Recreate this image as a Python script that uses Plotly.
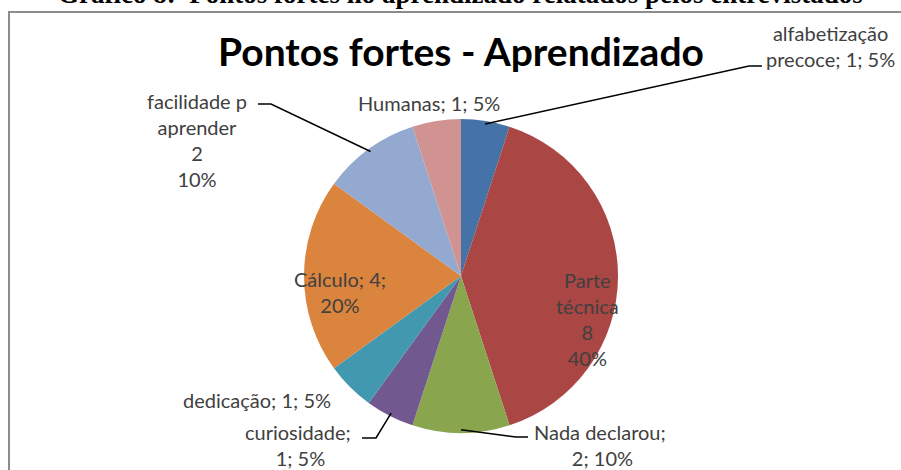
import math
import plotly.graph_objects as go

# ---------------- data ----------------
categories = ["alfabetização precoce", "Parte técnica", "Nada declarou", "curiosidade",
              "dedicação", "Cálculo", "facilidade p aprender", "Humanas"]
values = [1, 8, 2, 1, 1, 4, 2, 1]
colors = ["#4572A7", "#AA4643", "#89A54E", "#71588F", "#4198AF", "#DB843D", "#93A9CF", "#D19392"]
chart_title = "Pontos fortes - Aprendizado"
caption = "Gráfico 8:  Pontos fortes no aprendizado relatados pelos entrevistados"

# ---------------- layout constants (pixels) ----------------
W, H = 901, 470
CX, CY, R = 461, 276, 157
FONT = "Lato"
LABEL_COLOR = "#404040"
LABEL_SIZE = 20

def px(x):
    return x / W

def py(y):
    return 1 - y / H

total = sum(values)
pcts = [round(v * 100 / total) for v in values]

# label templates (line breaks as in the reference)
templates = [
    "{c0}<br>{c1}; {v}; {p}%",
    "{c0}<br>{c1}<br>{v}<br>{p}%",
    "{c}; <br>{v}; {p}%",
    "{c}; <br>{v}; {p}%",
    "{c}; {v}; {p}%",
    "{c}; {v};<br>{p}%",
    "{c0}<br>{c1}<br>{v}<br>{p}%",
    "{c}; {v}; {p}%",
]
label_pos = [(830, 46), (587, 319), (602, 445), (300, 445),
             (257, 400), (340, 292), (197, 140), (429, 103)]
# leader lines: index -> (label end point, stub end point)
leaders = {
    0: ((762, 66), (749, 66)),
    6: ((258, 104), (271, 104)),
    3: ((362, 438), (376, 438)),
    2: ((528, 437), (516, 437)),
}

fig = go.Figure()
fig.add_trace(go.Pie(
    labels=categories, values=values, sort=False, direction="clockwise", rotation=0,
    marker=dict(colors=colors, line=dict(width=0)),
    textinfo="none", hoverinfo="label+value+percent", showlegend=False,
    domain=dict(x=[px(CX - R), px(CX + R)], y=[py(CY + R), py(CY - R)]),
))

annotations = []
for i, (c, v, p) in enumerate(zip(categories, values, pcts)):
    parts = c.rsplit(" ", 1)
    c0, c1 = (parts + [""])[:2]
    text = templates[i].format(c=c, c0=c0, c1=c1, v=v, p=p)
    x, y = label_pos[i]
    annotations.append(dict(
        text=text, x=px(x), y=py(y), xref="paper", yref="paper",
        xanchor="center", yanchor="middle", align="center", showarrow=False,
        font=dict(family=FONT, size=LABEL_SIZE, color=LABEL_COLOR),
    ))

annotations.append(dict(
    text="<b>" + chart_title + "</b>", x=px(CX), y=py(51), xref="paper", yref="paper",
    xanchor="center", yanchor="middle", showarrow=False,
    font=dict(family=FONT, size=39, color="#000000"),
))
annotations.append(dict(
    text="<b>" + caption.replace("  ", "&nbsp; ") + "</b>", x=px(460), y=py(-6), xref="paper", yref="paper",
    xanchor="center", yanchor="middle", showarrow=False,
    font=dict(family="Liberation Serif", size=27, color="#000000"),
))

shapes = [dict(type="rect", xref="paper", yref="paper",
               x0=px(9), x1=px(W + 20), y0=py(12), y1=py(H + 20),
               line=dict(color="#8C8C8C", width=2), fillcolor="rgba(0,0,0,0)")]

# leader lines, pie end computed from the slice mid-angle
cum = 0
for i, v in enumerate(values):
    mid = (cum + v / 2) / total * 2 * math.pi
    cum += v
    if i not in leaders:
        continue
    (lx, ly), (sx, sy) = leaders[i]
    ex = CX + 0.98 * R * math.sin(mid)
    ey = CY - 0.98 * R * math.cos(mid)
    path = f"M {px(lx)},{py(ly)} L {px(sx)},{py(sy)} L {px(ex)},{py(ey)}"
    shapes.append(dict(type="path", xref="paper", yref="paper", path=path,
                       line=dict(color="#000000", width=1.5)))

fig.update_layout(
    width=W, height=H, autosize=False,
    margin=dict(l=0, r=0, t=0, b=0),
    paper_bgcolor="#FFFFFF", plot_bgcolor="#FFFFFF",
    annotations=annotations, shapes=shapes,
)
fig.write_html("out.html", config={"displayModeBar": False},
               post_script="document.body.style.margin='0px';")
